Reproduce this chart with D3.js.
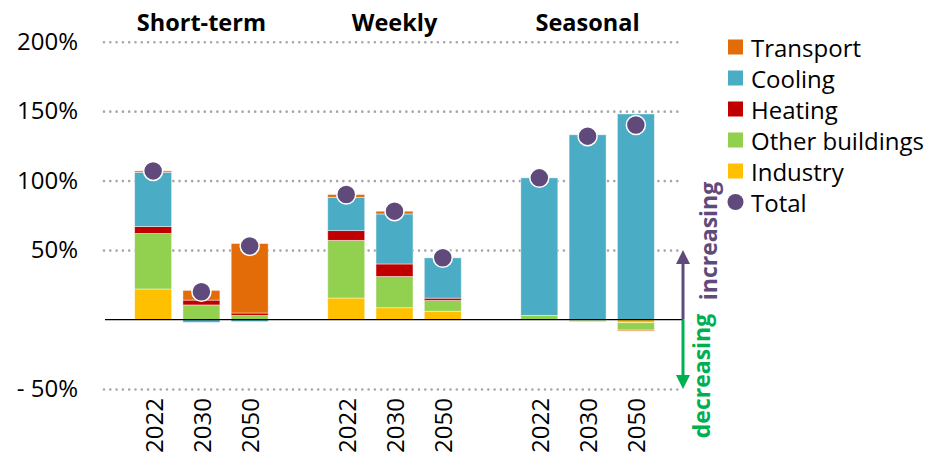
<!DOCTYPE html>
<html><head><meta charset="utf-8">
<script src="https://cdn.jsdelivr.net/npm/d3@7"></script>
<style>body{margin:0;background:#fff}svg{display:block;font-family:"Open Sans",sans-serif}</style>
</head><body><svg id="c" width="928" height="456"></svg>
<script>
// ---- data ----
const groups = ["Short-term", "Weekly", "Seasonal"];
const years = ["2022", "2030", "2050"];
const sectors = ["Industry", "Other buildings", "Heating", "Cooling", "Transport"];
const industry       = [22, 0, 0,    15.5, 8.5, 6,    0, 0, -2.3];
const otherBuildings = [40, 10.5, 3, 41.5, 22.5, 7.7, 3, -1, -5.3];
const heating        = [5, 3.5, 1.7, 7, 9, 1.7,       0, 0, 0];
const cooling        = [39, -2, -1.5, 24, 36, 29,     99, 133, 148];
const transport      = [1, 7, 50,    2, 2, 0,         0, -0.4, -0.7];
const total          = [107, 20, 53, 90, 78, 44.5,    102, 132, 140];
const yTicks = [-50, 50, 100, 150, 200];
const legendOrder = ["Transport", "Cooling", "Heating", "Other buildings", "Industry"];

const colors = {"Industry":"#FFC000","Other buildings":"#92D050","Heating":"#C00000","Cooling":"#4BACC6","Transport":"#E36C09"};
const purple = "#604A7B", green = "#00B050";

// ---- build rows ----
const rows = [];
groups.forEach((g, gi) => years.forEach((yr, yi) => {
  const i = gi * 3 + yi;
  rows.push({key: g + "|" + yr, group: g, year: yr,
    "Industry": industry[i], "Other buildings": otherBuildings[i], "Heating": heating[i],
    "Cooling": cooling[i], "Transport": transport[i], total: total[i]});
}));
const slots = [];
groups.forEach((g, gi) => {
  years.forEach(yr => slots.push(g + "|" + yr));
  if (gi < groups.length - 1) slots.push("gap" + gi);
});

const svg = d3.select("#c");
const x = d3.scaleBand().domain(slots).range([129, 660]).paddingInner(0.234).paddingOuter(0.117);
const y = d3.scaleLinear().domain([-50, 200]).range([389, 41.7]);

// gridlines + tick labels
const ax = svg.append("g").attr("transform", "translate(104,0)")
  .call(d3.axisLeft(y).tickValues(yTicks).tickSize(-576).tickPadding(26)
    .tickFormat(d => d < 0 ? "- " + Math.abs(d) + "%" : d + "%"));
ax.select(".domain").remove();
ax.selectAll(".tick line").attr("stroke", "#a6a6a6").attr("stroke-width", 2.6)
  .attr("stroke-linecap", "round").attr("stroke-dasharray", "0 6.3");
ax.selectAll(".tick text").attr("font-size", 24).attr("font-family", "Open Sans").attr("fill", "#000");

// stacked bars
const stack = d3.stack().keys(sectors).offset(d3.stackOffsetDiverging);
const series = stack(rows);
svg.append("g").selectAll("g").data(series).join("g")
  .attr("fill", s => colors[s.key])
  .selectAll("rect").data(s => s).join("rect")
  .attr("x", d => x(d.data.key))
  .attr("width", x.bandwidth())
  .attr("y", d => y(Math.max(d[0], d[1])))
  .attr("height", d => Math.abs(y(d[0]) - y(d[1])))
  .attr("stroke", "rgba(255,255,255,0.55)").attr("stroke-width", 0.8);

// zero line
svg.append("line").attr("x1", 105).attr("x2", 683).attr("y1", y(0)).attr("y2", y(0))
  .attr("stroke", "#000").attr("stroke-width", 1.3);

// total dots
svg.append("g").selectAll("circle").data(rows).join("circle")
  .attr("cx", d => x(d.key) + x.bandwidth() / 2)
  .attr("cy", d => y(d.total))
  .attr("r", 9.5).attr("fill", purple).attr("stroke", "#fff").attr("stroke-width", 1.5);

// year labels
svg.append("g").selectAll("text").data(rows).join("text")
  .attr("transform", d => `translate(${x(d.key) + x.bandwidth() / 2},398) rotate(-90)`)
  .attr("text-anchor", "end").attr("dominant-baseline", "central")
  .attr("font-size", 24).text(d => d.year);

// group titles
svg.append("g").selectAll("text").data(groups).join("text")
  .attr("x", g => x(g + "|2030") + x.bandwidth() / 2).attr("y", 31)
  .attr("text-anchor", "middle").attr("font-weight", "bold").attr("font-size", 23.5)
  .text(g => g);

// arrows
const ax0 = 683;
svg.append("line").attr("x1", ax0).attr("x2", ax0).attr("y1", y(0)).attr("y2", y(50) + 12)
  .attr("stroke", purple).attr("stroke-width", 3);
svg.append("path").attr("d", `M${ax0 - 7},${y(50) + 14}L${ax0},${y(50)}L${ax0 + 7},${y(50) + 14}Z`).attr("fill", purple);
svg.append("line").attr("x1", ax0).attr("x2", ax0).attr("y1", y(0)).attr("y2", y(-50) - 12)
  .attr("stroke", green).attr("stroke-width", 3);
svg.append("path").attr("d", `M${ax0 - 7},${y(-50) - 14}L${ax0},${y(-50)}L${ax0 + 7},${y(-50) - 14}Z`).attr("fill", green);
svg.append("text").attr("transform", "translate(708,241) rotate(-90)")
  .attr("text-anchor", "middle").attr("dominant-baseline", "central")
  .attr("font-weight", "bold").attr("font-size", 23).attr("fill", purple).text("increasing");
svg.append("text").attr("transform", "translate(701,376) rotate(-90)")
  .attr("text-anchor", "middle").attr("dominant-baseline", "central")
  .attr("font-weight", "bold").attr("font-size", 23).attr("fill", green).text("decreasing");

// legend
const lg = svg.append("g");
const items = legendOrder.concat(["Total"]);
items.forEach((k, i) => {
  const cy = 47 + i * 31;
  if (k === "Total") {
    lg.append("circle").attr("cx", 735.5).attr("cy", cy).attr("r", 8).attr("fill", purple);
  } else {
    lg.append("rect").attr("x", 728).attr("y", cy - 7.5).attr("width", 15).attr("height", 15).attr("fill", colors[k]);
  }
  lg.append("text").attr("x", 751).attr("y", cy).attr("dominant-baseline", "central")
    .attr("font-size", 24).text(k);
});
</script></body></html>
